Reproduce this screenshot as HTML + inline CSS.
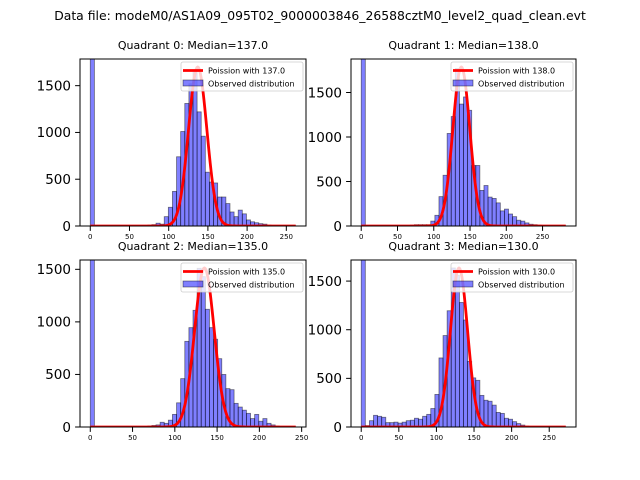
<!DOCTYPE html>
<html><head><meta charset="utf-8">
<style>
html,body{margin:0;padding:0;background:#fff;}
svg{display:block;font-family:"DejaVu Sans","Liberation Sans",sans-serif;}
</style></head>
<body>
<svg id="fig" width="640" height="480" viewBox="0 0 640 480" xmlns="http://www.w3.org/2000/svg">
<rect width="640" height="480" fill="#fff"/>
<text x="320" y="20" font-size="12.4" text-anchor="middle">Data file: modeM0/AS1A09_095T02_9000003846_26588cztM0_level2_quad_clean.evt</text>
</svg>
<script>
const quadrants = ["0","1","2","3"];
const medians = [137.0, 138.0, 135.0, 130.0];
const maxValues = [262, 282, 243, 272];
const poissonPeaks = [1700, 1787, 1513, 1635];
const yTicks = [0, 500, 1000, 1500];
const xTicks = [0, 50, 100, 150, 200, 250];
const counts0 = [5000,0,0,0,0,0,0,0,0,0,0,0,0,5,10,15,30,20,100,200,370,740,1010,1310,1520,1660,1220,960,575,470,460,310,310,240,150,100,170,130,65,45,35,25,20,10,5,2,2,2,2,2];
const counts1 = [5000,0,0,0,0,0,0,0,0,0,0,0,10,15,15,15,15,55,120,330,570,1040,1230,1770,1370,1450,1300,680,680,400,455,325,310,260,170,190,135,105,65,55,35,20,15,10,5,3,2,2,2,2];
const counts2 = [5000,0,0,0,0,0,0,0,0,0,0,0,0,5,10,15,20,45,35,65,120,230,460,815,945,1110,1510,1430,1120,945,835,650,500,365,355,225,190,160,130,80,120,55,80,35,20,10,5,2,2,2];
const counts3 = [5000,15,65,120,110,100,45,45,50,40,50,65,70,90,80,110,130,190,335,710,940,1195,1635,1560,1280,1100,675,505,480,325,275,265,225,150,140,90,80,55,35,20,10,5,3,2,2,2,2,2,2,2];
const allCounts = [counts0, counts1, counts2, counts3];

const boxes = [[80,59,226,167],[351,59,225,167],[80,260,226,167],[351,260,225,167]];
const NS = "http://www.w3.org/2000/svg";
const svg = document.getElementById("fig");
function mk(tag, attrs, parent){
  const e = document.createElementNS(NS, tag);
  for (const k in attrs) e.setAttribute(k, attrs[k]);
  (parent||svg).appendChild(e);
  return e;
}
for (let q = 0; q < 4; q++) {
  const [L,T,W,H] = boxes[q];
  const maxV = maxValues[q];
  const xmin = -0.05*maxV, xmax = 1.05*maxV;
  const ymax = 1.05*poissonPeaks[q];
  const sx = v => L + (v - xmin)/(xmax - xmin)*W;
  const sy = v => T + H - v/ymax*H;
  const g = mk("g", {});
  
  
  const cp = mk("clipPath", {id:"clip"+q}, g);
  mk("rect", {x:L, y:T, width:W, height:H}, cp);
  const title = mk("text", {x:L+W/2, y:T-10, "font-size":"11", "text-anchor":"middle"}, g);
  title.textContent = "Quadrant " + quadrants[q] + ": Median=" + medians[q].toFixed(1);
  
  
  const plot = mk("g", {"clip-path":"url(#clip"+q+")"}, g);
  const counts = allCounts[q];
  const bw = maxV / counts.length;
  counts.forEach((c, i) => {
    if (c <= 0) return;
    const x0 = sx(i*bw), x1 = sx((i+1)*bw);
    const r = mk("rect", {x:x0, y:sy(c), width:x1-x0, height:sy(0)-sy(c), fill:"rgba(0,0,255,0.5)", stroke:"rgba(0,0,0,0.5)", "stroke-width":"0.8"}, plot);
    
    
  });
  const lam = medians[q], A = poissonPeaks[q];
  let d = "";
  for (let v = 0; v <= maxV; v += 1) {
    const y = A*Math.exp(-(v-lam)*(v-lam)/(2*lam));
    d += (v === 0 ? "M" : "L") + sx(v).toFixed(2) + "," + sy(y).toFixed(2);
  }
  const pl = mk("path", {d:d, fill:"none", stroke:"#ff0000", "stroke-width":"2.8", "stroke-linejoin":"round"}, plot);
  
  
  mk("rect", {x:L, y:T, width:W, height:H, fill:"none", stroke:"#000", "stroke-width":"1"}, g);
  yTicks.forEach(t => {
    const y = sy(t);
    mk("line", {x1:L-4.9, x2:L, y1:y, y2:y, stroke:"#000", "stroke-width":"1"}, g);
    const tx = mk("text", {x:L-9, y:y+4.8, "font-size":"13.5", "text-anchor":"end"}, g);
    tx.textContent = t;
    
    
  });
  xTicks.forEach(t => {
    if (t > xmax) return;
    const x = sx(t);
    mk("line", {x1:x, x2:x, y1:T+H, y2:T+H+4.9, stroke:"#000", "stroke-width":"1"}, g);
    const tx = mk("text", {x:x, y:T+H+13, "font-size":"7", "text-anchor":"middle"}, g);
    tx.textContent = t;
    
    
  });
  const lx = L+W-125, ly = T+3;
  const lg = mk("g", {}, g);
  
  
  mk("rect", {x:lx, y:ly, width:122, height:29, rx:2, fill:"rgba(255,255,255,0.8)", stroke:"#ccc", "stroke-width":"0.8"}, lg);
  mk("line", {x1:lx+2, x2:lx+22, y1:ly+8.5, y2:ly+8.5, stroke:"#ff0000", "stroke-width":"2.8"}, lg);
  const t1 = mk("text", {x:lx+27, y:ly+11.5, "font-size":"8"}, lg);
  t1.textContent = "Poission with " + medians[q].toFixed(1);
  
  
  mk("rect", {x:lx+2, y:ly+18, width:20, height:6, fill:"rgba(0,0,255,0.5)", stroke:"rgba(0,0,0,0.5)", "stroke-width":"0.8"}, lg);
  const t2 = mk("text", {x:lx+27, y:ly+24.5, "font-size":"8"}, lg);
  t2.textContent = "Observed distribution";
  
  
}
</script>
</body></html>
